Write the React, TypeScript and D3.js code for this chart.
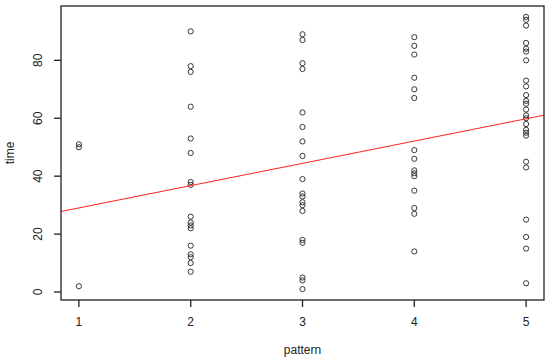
import React from "react";
import * as d3 from "d3";

// pattern groups and the times
const patterns = [1, 2, 3, 4, 5];
const times1 = [51, 50, 2];
const times2 = [90, 78, 76, 64, 53, 48, 38, 37, 26, 24, 23, 22, 16, 13, 12, 10, 7];
const times3 = [89, 87, 79, 77, 62, 57, 52, 47, 39, 34, 33, 31, 30, 28, 18, 17, 5, 4, 1];
const times4 = [88, 85, 82, 74, 70, 67, 49, 46, 42, 41, 40, 35, 29, 27, 14];
const times5 = [95, 94, 92, 86, 84, 83, 80, 73, 71, 68, 66, 65, 63, 61, 60, 58, 56, 55, 54, 45, 43, 25, 19, 15, 3];
const yTicks = [0, 20, 40, 60, 80];

const groups = [times1, times2, times3, times4, times5];

const App = () => {
    const width = 550;
    const height = 361;
    const margin = { left: 61, right: 6, top: 6, bottom: 61 };

    const points = groups.flatMap((g, i) => g.map((t) => ({ p: patterns[i], t })));

    // R style: pad range by 4%
    const xMin = 1 - 0.04 * 4;
    const xMax = 5 + 0.04 * 4;
    const tExt = d3.extent(points, (d) => d.t) as [number, number];
    const tPad = (tExt[1] - tExt[0]) * 0.04;

    const x = d3.scaleLinear().domain([xMin, xMax]).range([margin.left, width - margin.right]);
    const y = d3.scaleLinear().domain([tExt[0] - tPad, tExt[1] + tPad]).range([height - margin.bottom, margin.top]);

    // least squares fit, like abline(lm(time ~ pattern))
    const mx = d3.mean(points, (d) => d.p)!;
    const my = d3.mean(points, (d) => d.t)!;
    const sxy = d3.sum(points, (d) => (d.p - mx) * (d.t - my));
    const sxx = d3.sum(points, (d) => (d.p - mx) ** 2);
    const slope = sxy / sxx;
    const intercept = my - slope * mx;

    const font = "'Liberation Sans', Arial, Helvetica, sans-serif";
    const bottom = height - margin.bottom;

    return (
        <div style={{ position: "absolute", left: 0, top: 0 }}>
            <svg width={width} height={height} style={{ display: "block", background: "white" }}>
                <defs>
                    <clipPath id="plotClip">
                        <rect x={margin.left} y={margin.top} width={width - margin.left - margin.right} height={bottom - margin.top} />
                    </clipPath>
                </defs>

                {/* points */}
                {points.map((d, i) => (
                    <circle key={i} cx={x(d.p)} cy={y(d.t)} r={2.6} fill="none" stroke="#222" strokeWidth={0.9} />
                ))}

                {/* regression line */}
                <line
                    clipPath="url(#plotClip)"
                    x1={x(xMin)}
                    y1={y(intercept + slope * xMin)}
                    x2={x(xMax)}
                    y2={y(intercept + slope * xMax)}
                    stroke="#ff2020"
                    strokeWidth={1}
                />

                {/* box */}
                <rect
                    x={margin.left}
                    y={margin.top}
                    width={width - margin.left - margin.right}
                    height={bottom - margin.top}
                    fill="none"
                    stroke="#222"
                    strokeWidth={1.3}
                />

                {/* x axis */}
                {patterns.map((p) => (
                    <g key={p}>
                        <line x1={x(p)} x2={x(p)} y1={bottom} y2={bottom + 7} stroke="#222" strokeWidth={1.3} />
                        <text x={x(p)} y={bottom + 26} textAnchor="middle" fontFamily={font} fontSize={12} fill="#222">
                            {p}
                        </text>
                    </g>
                ))}
                <text x={(margin.left + width - margin.right) / 2} y={354} textAnchor="middle" fontFamily={font} fontSize={12} fill="#222">
                    pattern
                </text>

                {/* y axis */}
                {yTicks.map((t) => (
                    <g key={t}>
                        <line x1={margin.left - 7} x2={margin.left} y1={y(t)} y2={y(t)} stroke="#222" strokeWidth={1.3} />
                        <text
                            transform={`translate(${margin.left - 19},${y(t)}) rotate(-90)`}
                            textAnchor="middle"
                            fontFamily={font}
                            fontSize={12}
                            fill="#222"
                        >
                            {t}
                        </text>
                    </g>
                ))}
                <text
                    transform={`translate(14,${(margin.top + bottom) / 2}) rotate(-90)`}
                    textAnchor="middle"
                    fontFamily={font}
                    fontSize={12}
                    fill="#222"
                >
                    time
                </text>
            </svg>
        </div>
    );
};

export default App;
